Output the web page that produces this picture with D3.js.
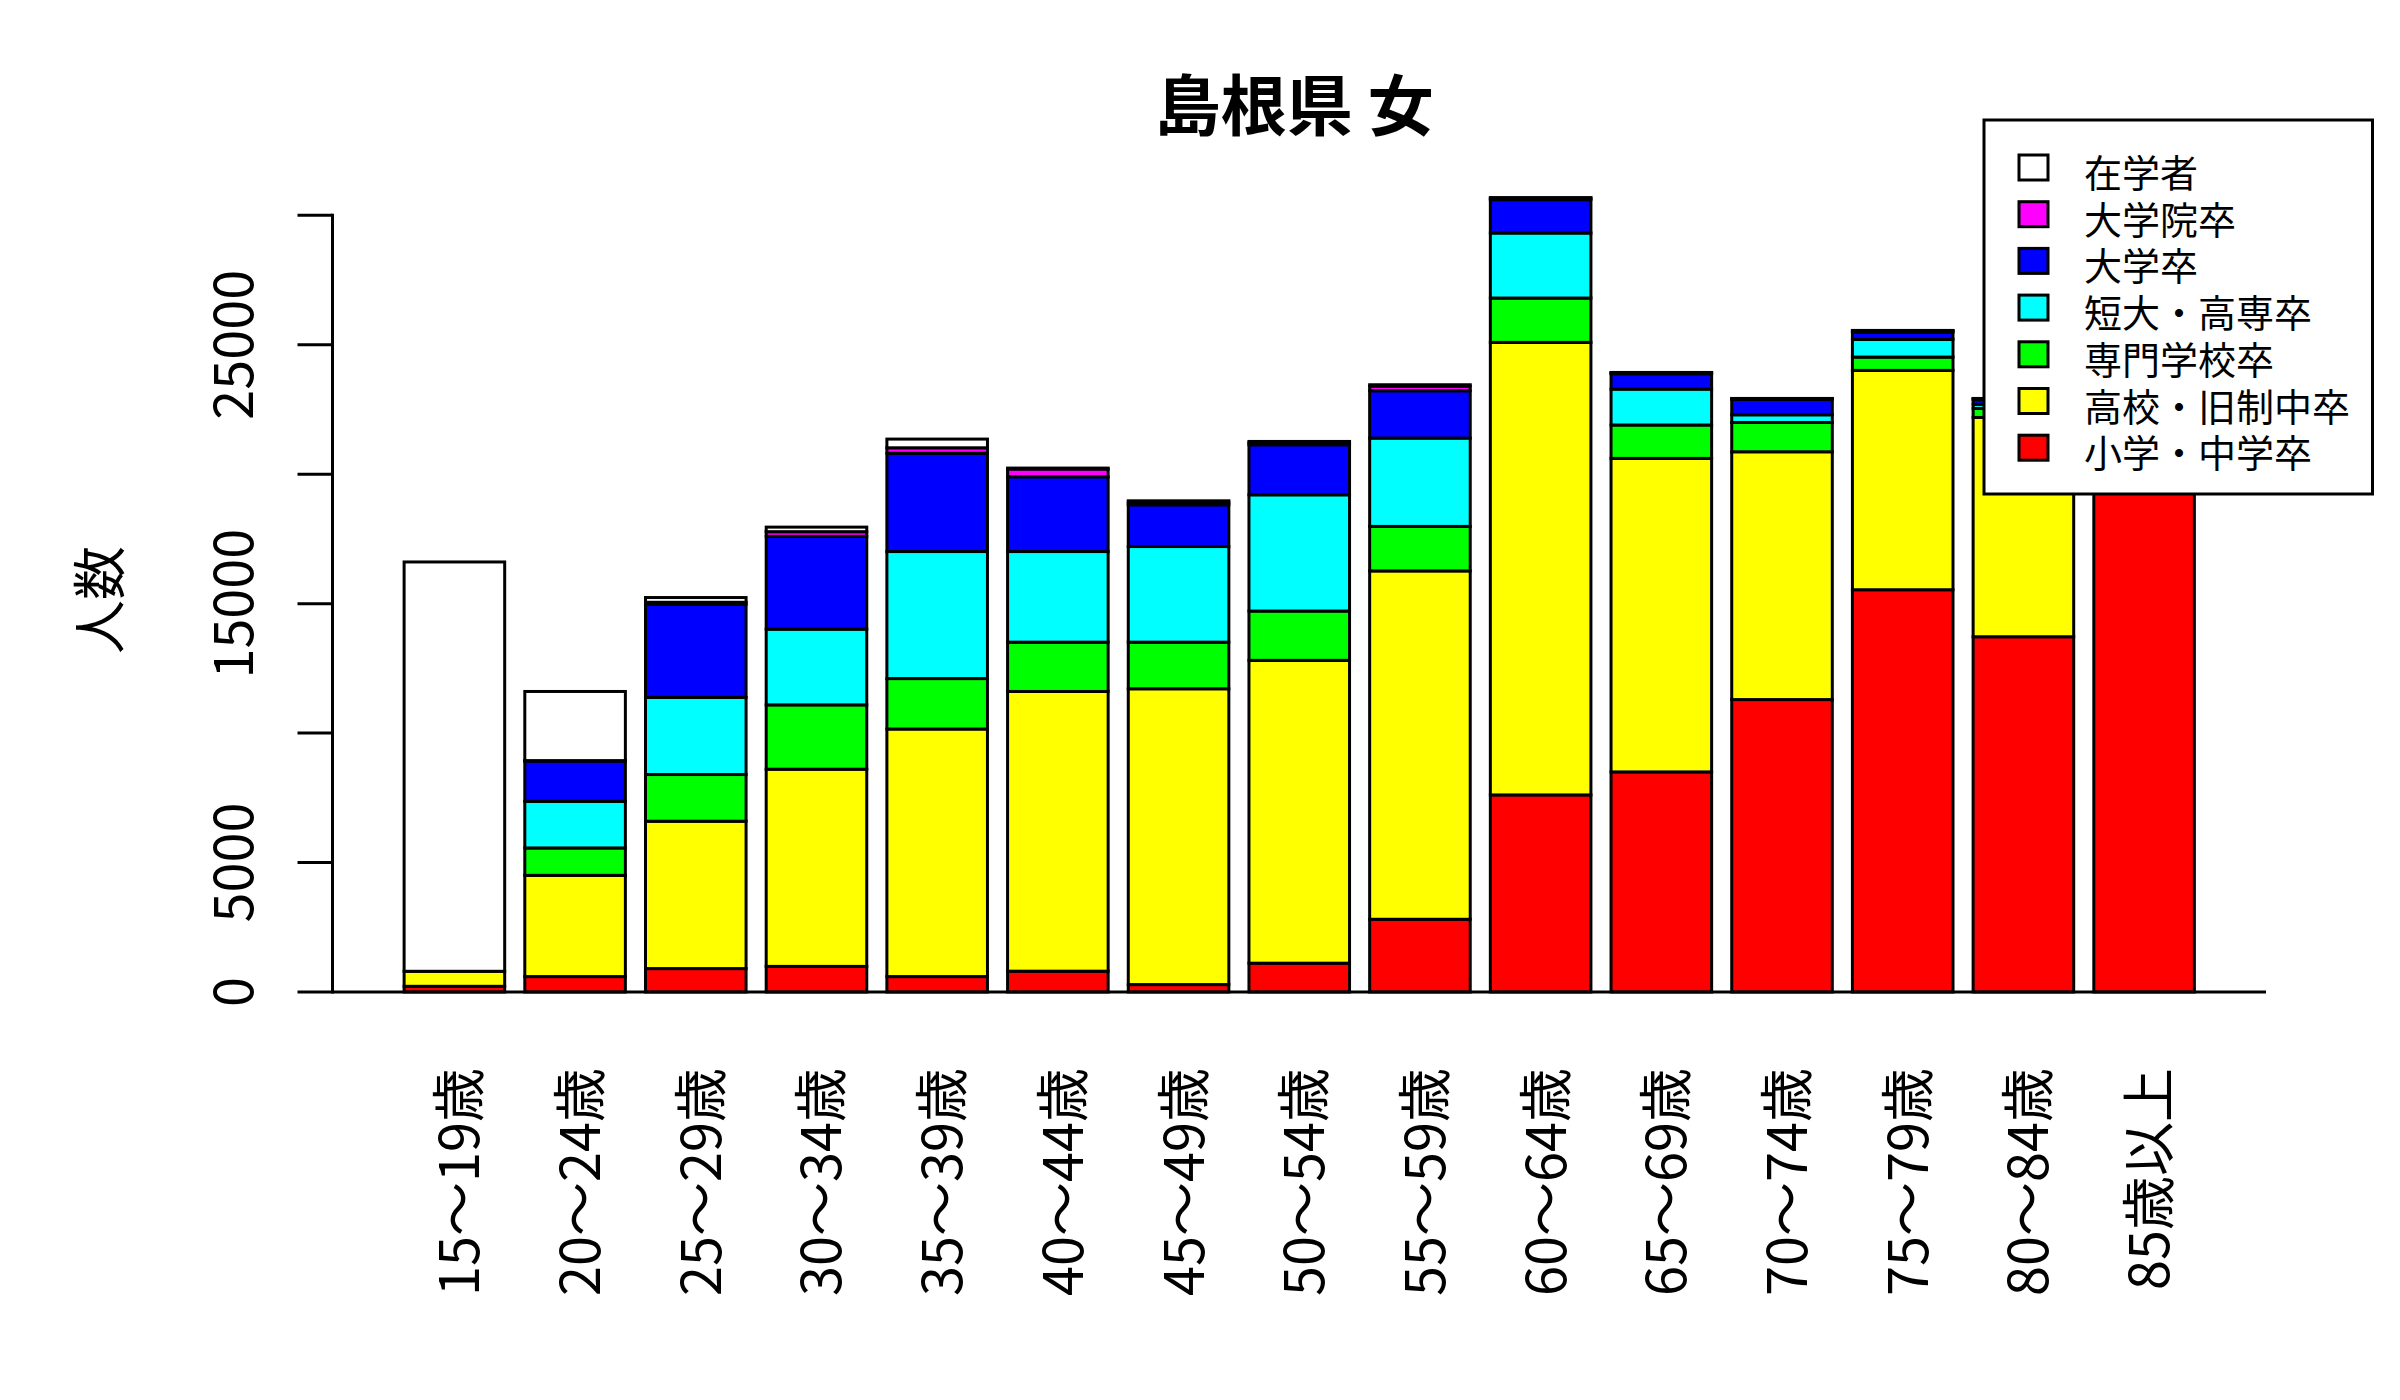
<!DOCTYPE html>
<html>
<head>
<meta charset="utf-8">
<script src="https://cdn.jsdelivr.net/npm/d3@7"></script>
<style>
  html, body { margin: 0; padding: 0; background: #ffffff; }
  text { font-family: "Noto Sans CJK JP", sans-serif; fill: #000; }
</style>
</head>
<body>
<svg id="chart" width="2400" height="1400"></svg>
<script>
// ---- data ----
const ages = ["15～19歳","20～24歳","25～29歳","30～34歳","35～39歳","40～44歳","45～49歳",
              "50～54歳","55～59歳","60～64歳","65～69歳","70～74歳","75～79歳","80～84歳","85歳以上"];
const chartTitle = "島根県 女";
const yTitle = "人数";
// series, bottom to top
const elementary = [220, 595, 904, 989, 595, 804, 286, 1113, 2809, 7612, 8501, 11295, 15537, 13721, 20500];
const highSchool = [580, 3911, 5692, 7616, 9563, 10804, 11426, 11696, 13455, 17478, 12109, 9571, 8473, 8470, 2800];
const vocational = [0, 1058, 1804, 2485, 1948, 1904, 1800, 1905, 1719, 1714, 1290, 1132, 514, 349, 150];
const juniorCollege = [0, 1801, 2980, 2925, 4907, 3501, 3694, 4490, 3412, 2512, 1386, 297, 681, 160, 120];
const university = [0, 1553, 3593, 3585, 3795, 2887, 1612, 1933, 1828, 1289, 594, 592, 285, 180, 60];
const graduate = [0, 20, 80, 180, 212, 300, 102, 83, 177, 55, 40, 30, 50, 36, 5];
const enrolled = [15810, 2670, 183, 176, 336, 36, 52, 45, 55, 24, 10, 9, 13, 10, 0];

const seriesNames = ["小学・中学卒","高校・旧制中卒","専門学校卒","短大・高専卒","大学卒","大学院卒","在学者"];
const seriesColors = ["#FF0000","#FFFF00","#00FF00","#00FFFF","#0000FF","#FF00FF","#FFFFFF"];
const seriesValues = [elementary, highSchool, vocational, juniorCollege, university, graduate, enrolled];

const yTickValues = [0, 5000, 10000, 15000, 20000, 25000, 30000];
const yTickLabels = ["0", "5000", "", "15000", "", "25000", ""];

// ---- build table ----
const table = ages.map((a, i) => {
  const row = { age: a };
  seriesNames.forEach((s, k) => { row[s] = seriesValues[k][i]; });
  return row;
});
const stacked = d3.stack().keys(seriesNames)(table);

// ---- scales ----
const svg = d3.select("#chart");
svg.append("rect").attr("width", 2400).attr("height", 1400).attr("fill", "#fff");

// x in R barplot units: xlim [-0.512, 18.712]
const xu = d3.scaleLinear().domain([-0.512, 18.712]).range([332.5, 2266]);
const x = d3.scaleBand().domain(ages)
  .range([xu(0.1), xu(18.1)])
  .paddingInner(1/6).paddingOuter(1/12);
const y = d3.scaleLinear().domain([0, 30000]).range([992, 215.3]);

const lw = 3;

// ---- bars ----
const gBars = svg.append("g");
ages.forEach((a, i) => {
  stacked.forEach((layer, k) => {
    const d = layer[i];
    gBars.append("rect")
      .attr("x", x(a))
      .attr("y", y(d[1]))
      .attr("width", x.bandwidth())
      .attr("height", Math.max(0, y(d[0]) - y(d[1])))
      .attr("fill", seriesColors[k])
      .attr("stroke", "#000")
      .attr("stroke-width", lw);
  });
});

// ---- baseline ----
svg.append("line")
  .attr("x1", xu.range()[0]).attr("x2", xu.range()[1])
  .attr("y1", y(0)).attr("y2", y(0))
  .attr("stroke", "#000").attr("stroke-width", lw);

// ---- y axis ----
const axisX = xu.range()[0];
const gY = svg.append("g");
gY.append("line")
  .attr("x1", axisX).attr("x2", axisX)
  .attr("y1", y(0)).attr("y2", y(30000))
  .attr("stroke", "#000").attr("stroke-width", lw)
  .attr("stroke-linecap", "square");
yTickValues.forEach((v, i) => {
  gY.append("line")
    .attr("x1", axisX - 35).attr("x2", axisX)
    .attr("y1", y(v)).attr("y2", y(v))
    .attr("stroke", "#000").attr("stroke-width", lw);
  if (yTickLabels[i]) {
    gY.append("text")
      .attr("transform", `translate(253,${y(v)}) rotate(-90)`)
      .attr("text-anchor", "middle")
      .attr("font-size", 54)
      .text(yTickLabels[i]);
  }
});

// ---- x labels ----
const gX = svg.append("g");
ages.forEach(a => {
  const cx = x(a) + x.bandwidth() / 2;
  gX.append("text")
    .attr("transform", `translate(${cx + 25},1068) rotate(-90)`)
    .attr("text-anchor", "end")
    .attr("font-size", 54)
    .text(a);
});

// ---- titles ----
svg.append("text")
  .attr("x", (xu.range()[0] + xu.range()[1]) / 2 - 5)
  .attr("y", 130)
  .attr("text-anchor", "middle")
  .attr("font-size", 66)
  .attr("font-weight", "bold")
  .text(chartTitle);

svg.append("text")
  .attr("transform", "translate(120,600) rotate(-90)")
  .attr("text-anchor", "middle")
  .attr("font-size", 54)
  .text(yTitle);

// ---- legend ----
const gL = svg.append("g");
gL.append("rect")
  .attr("x", 1984).attr("y", 120)
  .attr("width", 388.5).attr("height", 374)
  .attr("fill", "#fff").attr("stroke", "#000").attr("stroke-width", lw);
const legendOrder = d3.range(seriesNames.length).reverse();
legendOrder.forEach((k, r) => {
  const cy = 167.5 + r * 46.7;
  gL.append("rect")
    .attr("x", 2019).attr("y", cy - 12.5)
    .attr("width", 29).attr("height", 25)
    .attr("fill", seriesColors[k])
    .attr("stroke", "#000").attr("stroke-width", lw);
  gL.append("text")
    .attr("x", 2084).attr("y", cy + 3)
    .attr("dominant-baseline", "central")
    .attr("font-size", 38)
    .text(seriesNames[k]);
});
</script>
</body>
</html>
